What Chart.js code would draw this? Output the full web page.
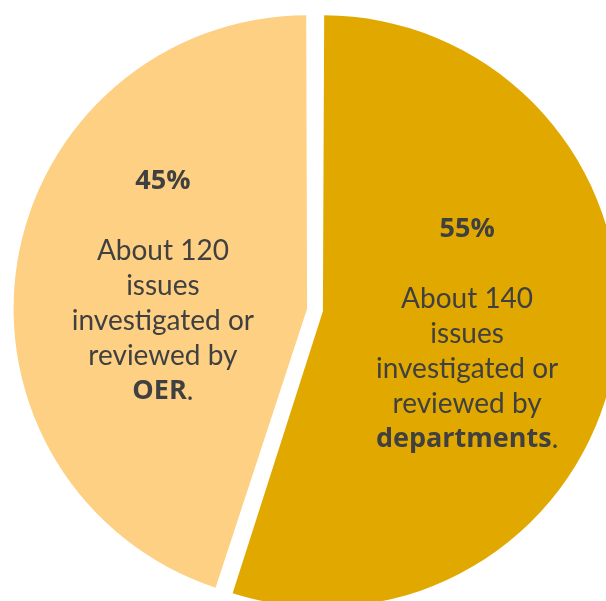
<!DOCTYPE html>
<html>
<head>
<meta charset="utf-8">
<script src="https://cdn.jsdelivr.net/npm/chart.js@4.4.1/dist/chart.umd.min.js"></script>
<style>
  html, body { margin: 0; padding: 0; background: #ffffff; overflow: hidden; }
  #wrap { width: 606px; height: 601px; overflow: hidden; position: relative; }
  #box { position: absolute; left: 0; top: 0; width: 630px; height: 620px; }
</style>
</head>
<body>
<div id="wrap"><div id="box"><canvas id="c"></canvas></div></div>
<script>
const categories = ["Departments", "OER"];
const percentValues = [55, 45];
const issueCounts = [140, 120];
const sliceColors = ["#E1A900", "#FDD083"];
// Label text lines per slice: each line is a list of [text, bold] runs
const sliceLabels = [
  [[["55%", true]], [], [["About " + issueCounts[0], false]], [["issues", false]], [["investigated or", false]], [["reviewed by", false]], [["departments", true], [".", false]]],
  [[["45%", true]], [], [["About " + issueCounts[1], false]], [["issues", false]], [["investigated or", false]], [["reviewed by", false]], [["OER", true], [".", false]]]
];

const REG_FONT = "28px Lato, 'Open Sans', sans-serif";
const BOLD_FONT = "bold 27px 'Open Sans', Lato, sans-serif";
const LINE_H = 35;

const labelPlugin = {
  id: 'sliceText',
  afterDatasetsDraw(chart) {
    const ctx = chart.ctx;
    const meta = chart.getDatasetMeta(0);
    meta.data.forEach((arc, i) => {
      const p = arc.getProps(['x', 'y', 'startAngle', 'endAngle', 'outerRadius']);
      const half = (p.startAngle + p.endAngle) / 2;
      const dist = p.outerRadius / 2 + 10;
      const cx = p.x + Math.cos(half) * dist;
      const cy = p.y + Math.sin(half) * dist;
      const lines = sliceLabels[i];
      const n = lines.length;
      ctx.save();
      ctx.fillStyle = "#404040";
      ctx.textBaseline = "middle";
      ctx.textAlign = "left";
      lines.forEach((runs, li) => {
        const y = cy + (li - (n - 1) / 2) * LINE_H;
        let total = 0;
        const widths = runs.map(([t, b]) => {
          ctx.font = b ? BOLD_FONT : REG_FONT;
          const w = ctx.measureText(t).width;
          total += w;
          return w;
        });
        let x = cx - total / 2;
        runs.forEach(([t, b], ri) => {
          ctx.font = b ? BOLD_FONT : REG_FONT;
          ctx.fillText(t, x, y);
          x += widths[ri];
        });
      });
      ctx.restore();
    });
  }
};

new Chart(document.getElementById('c'), {
  type: 'pie',
  data: {
    labels: categories,
    datasets: [{
      data: percentValues,
      backgroundColor: sliceColors,
      borderWidth: 0,
      offset: 32
    }]
  },
  options: {
    responsive: true,
    maintainAspectRatio: false,
    animation: false,
    radius: 288,
    layout: { padding: 0 },
    plugins: {
      legend: { display: false },
      tooltip: { enabled: false }
    }
  },
  plugins: [labelPlugin]
});
</script>
</body>
</html>
